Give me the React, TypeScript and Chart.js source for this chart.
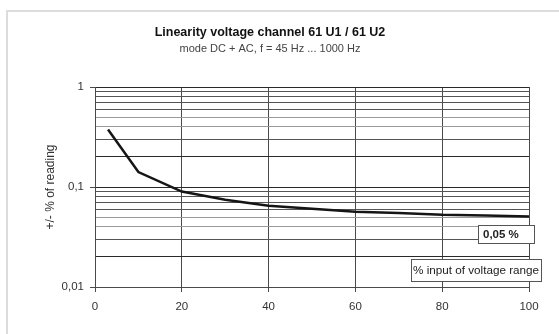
import React, { useEffect, useRef } from 'react';
import { Chart, registerables } from 'chart.js';

Chart.register(...registerables);

const inputPercent = [3, 10, 20, 30, 40, 50, 60, 70, 80, 90, 100];
const errorPercent = [0.375, 0.141, 0.09, 0.0746, 0.065, 0.0607, 0.0567, 0.055, 0.0528, 0.052, 0.0508];
const yTickValues = [
  0.01, 0.02, 0.03, 0.04, 0.05, 0.06, 0.07, 0.08, 0.09,
  0.1, 0.2, 0.3, 0.4, 0.5, 0.6, 0.7, 0.8, 0.9, 1,
];
const yTickLabels: Record<string, string> = { '1': '1', '0.1': '0,1', '0.01': '0,01' };
const titleText = 'Linearity voltage channel 61 U1 / 61 U2';
const subtitleText = 'mode DC + AC, f = 45 Hz ... 1000 Hz';
const yAxisTitle = '+/- % of reading';
const valueLabel = '0,05 %';
const xAxisLabel = '% input of voltage range';

const FONT = '"Liberation Sans", Arial, Helvetica, sans-serif';

function significand(v: number) {
  return Math.round(v / Math.pow(10, Math.floor(Math.log10(v) + 1e-9)));
}

const framePlugin = {
  id: 'frame',
  beforeDraw(chart: any) {
    const ctx = chart.ctx;
    ctx.save();
    ctx.fillStyle = '#ffffff';
    ctx.fillRect(0, 0, chart.width, chart.height);
    ctx.fillStyle = '#dcdcdc';
    ctx.fillRect(6, 10, chart.width - 6, 2);
    ctx.fillRect(6, 10, 2, chart.height - 10);
    ctx.restore();
  },
};

const labelBoxPlugin = {
  id: 'labelBoxes',
  afterDraw(chart: any) {
    const { ctx, chartArea: a } = chart;
    ctx.save();
    const drawBox = (x: number, y: number, w: number, h: number, text: string, bold: boolean, tx: number, size: number) => {
      ctx.fillStyle = '#ffffff';
      ctx.fillRect(x, y, w, h);
      ctx.strokeStyle = '#555555';
      ctx.lineWidth = 1;
      ctx.strokeRect(x + 0.5, y + 0.5, w, h);
      ctx.fillStyle = '#222222';
      ctx.font = (bold ? 'bold ' : '') + size + 'px ' + FONT;
      ctx.textBaseline = 'middle';
      ctx.textAlign = 'left';
      ctx.fillText(text, x + tx, y + h / 2 + 1);
    };
    drawBox(a.right - 51, a.top + 138, 56, 18, valueLabel, true, 5, 11.5);
    drawBox(a.right - 118, a.top + 172, 130, 22, xAxisLabel, false, 2, 11.7);
    ctx.restore();
  },
};

export default function App() {
  const ref = useRef<HTMLCanvasElement | null>(null);

  useEffect(() => {
    if (!ref.current) return;
    const chart = new Chart(ref.current, {
      type: 'line',
      data: {
        datasets: [
          {
            data: inputPercent.map((x, i) => ({ x, y: errorPercent[i] })),
            borderColor: '#151515',
            borderWidth: 2.5,
            pointRadius: 0,
            tension: 0,
            fill: false,
          },
        ],
      },
      options: {
        animation: false,
        responsive: false,
        layout: { padding: { left: 11, right: 30, top: 0, bottom: 0 } },
        plugins: {
          legend: { display: false },
          tooltip: { enabled: false },
          title: {
            display: true,
            text: titleText,
            color: '#111111',
            font: { family: FONT, size: 12.5, weight: 'bold' },
            padding: { top: 25, bottom: 2 },
          },
          subtitle: {
            display: true,
            text: subtitleText,
            color: '#444444',
            font: { family: FONT, size: 11 },
            padding: { top: 0, bottom: 31.8 },
          },
        },
        scales: {
          x: {
            type: 'linear',
            min: 0,
            max: 100,
            ticks: {
              stepSize: 20,
              color: '#333333',
              font: { family: FONT, size: 11.5 },
              padding: 8,
            },
            grid: { color: '#4a4a4a', tickLength: 5, tickColor: '#4a4a4a' },
            border: { color: '#4a4a4a' },
            afterFit: (s: any) => {
              s.height = 47;
            },
          },
          y: {
            type: 'logarithmic',
            min: 0.01,
            max: 1,
            afterBuildTicks: (s: any) => {
              s.ticks = yTickValues.map((v) => ({ value: v }));
            },
            afterFit: (s: any) => {
              s.width = 84;
            },
            ticks: {
              autoSkip: false,
              color: '#333333',
              font: { family: FONT, size: 11.5 },
              padding: 6,
              callback: (v: any) => yTickLabels[String(v)] ?? '',
            },
            grid: {
              tickLength: 5,
              color: (c: any) => {
                const v = c.tick ? c.tick.value : 1;
                const s = significand(v);
                if (s === 1 || s === 2) return '#2a2a2a';
                if (s === 4 || s === 5) return '#9a9a9a';
                return '#555555';
              },
              tickColor: (c: any) => {
                const v = c.tick ? c.tick.value : 1;
                return significand(v) === 1 ? '#4a4a4a' : 'rgba(0,0,0,0)';
              },
            },
            border: { color: '#4a4a4a' },
            title: {
              display: true,
              text: yAxisTitle,
              color: '#333333',
              font: { family: FONT, size: 12 },
              padding: { top: 32.8, bottom: 0 },
            },
          },
        },
      },
      plugins: [framePlugin, labelBoxPlugin],
    } as any);
    return () => chart.destroy();
  }, []);

  return (
    <div style={{ position: 'fixed', left: 0, top: 0, width: 559, height: 334, background: '#fff' }}>
      <canvas ref={ref} width={559} height={334} />
    </div>
  );
}
